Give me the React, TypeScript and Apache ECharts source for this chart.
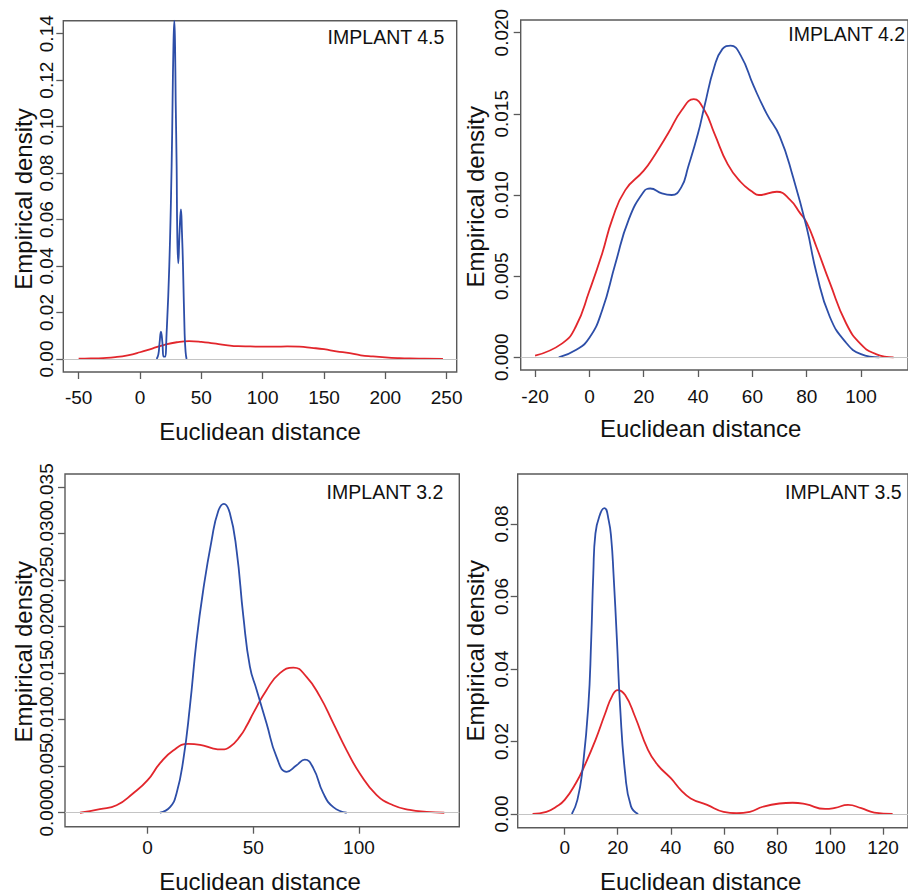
import React, { useEffect, useRef } from "react";
import * as echarts from "echarts";

const FONT = "'Liberation Sans', Arial, Helvetica, sans-serif";
const RED = "#e2262c";
const BLUE = "#2d4ea8";
const BOX = "#5a5a5a";

const panelTitles = ["IMPLANT 4.5", "IMPLANT 4.2", "IMPLANT 3.2", "IMPLANT 3.5"];
const xTitle = "Euclidean distance";
const yTitle = "Empirical density";

// tick values
const xTicks45 = [-50, 0, 50, 100, 150, 200, 250];
const yTicks45 = [0, 0.02, 0.04, 0.06, 0.08, 0.1, 0.12, 0.14];
const xTicks42 = [-20, 0, 20, 40, 60, 80, 100];
const yTicks42 = [0, 0.005, 0.01, 0.015, 0.02];
const xTicks32 = [0, 50, 100];
const yTicks32 = [0, 0.005, 0.01, 0.015, 0.02, 0.025, 0.03, 0.035];
const xTicks35 = [0, 20, 40, 60, 80, 100, 120];
const yTicks35 = [0, 0.02, 0.04, 0.06, 0.08];

// IMPLANT 4.5
const red45 = [
  [-50, 0.0001], [-40, 0.0002], [-30, 0.0004], [-20, 0.0008], [-10, 0.0016], [0, 0.0029],
  [10, 0.0045], [20, 0.0061], [30, 0.0072], [40, 0.0077], [50, 0.0074], [60, 0.0067],
  [70, 0.006], [80, 0.0055], [90, 0.0054], [100, 0.0053], [110, 0.0053], [120, 0.0054],
  [130, 0.0053], [140, 0.0048], [150, 0.0042], [160, 0.0033], [171, 0.0025], [180, 0.0016],
  [190, 0.0011], [200, 0.0007], [210, 0.0004], [220, 0.0002], [232, 0.0001], [247, 0],
];
const blue45 = [
  [13.6, 0], [15, 0.002], [16, 0.007], [17.1, 0.0118], [18.3, 0.007], [19.3, 0.001],
  [20.3, 0.001], [21.7, 0.011], [23.9, 0.04], [25.8, 0.083], [26.6, 0.1115], [27.3, 0.135],
  [28.0, 0.1456], [28.6, 0.135], [29.1, 0.1115], [29.9, 0.083], [30.4, 0.054], [31.2, 0.0412],
  [32.3, 0.055], [33.4, 0.0644], [34.2, 0.055], [35.1, 0.0397], [36.4, 0.011], [37.2, 0.003],
  [38, 0],
];

// IMPLANT 4.2
const red42 = [
  [-20, 0.0001], [-10, 0.00086], [-5, 0.0019], [0, 0.0041], [4.7, 0.0064], [8.4, 0.0085],
  [13.2, 0.0103], [20, 0.0115], [24.2, 0.0125], [29, 0.0138], [33.9, 0.0152], [38.4, 0.0159],
  [42.4, 0.0152], [46, 0.0138], [50.9, 0.0119], [55.7, 0.0108], [60, 0.0102], [62.4, 0.01],
  [69, 0.0102], [73.9, 0.0097], [77.5, 0.0089], [80, 0.0083], [83.6, 0.0068], [88.5, 0.0046],
  [94.5, 0.0021], [100, 0.0008], [105.5, 0.0002], [112, 0],
];
const blue42 = [
  [-11.3, 0], [-5, 0.00045], [0, 0.0012], [4.7, 0.0029], [9.6, 0.0058], [14.5, 0.0085],
  [20, 0.0102], [22.4, 0.0104], [26.7, 0.0101], [30.3, 0.01], [33.9, 0.0105], [36.3, 0.0117],
  [40, 0.0138], [42.4, 0.0155], [46, 0.0179], [49, 0.019], [52, 0.0192], [55.7, 0.0186],
  [60.5, 0.0167], [65.3, 0.015], [70.1, 0.0136], [75, 0.0111], [80, 0.008], [83.6, 0.0052],
  [88.5, 0.0025], [94.5, 0.0009], [100, 0.0002], [106.7, 0],
];

// IMPLANT 3.2
const red32 = [
  [-32, 0], [-22.6, 0.0004], [-14.7, 0.0008], [-6.8, 0.0021], [0, 0.0035], [5.8, 0.0053],
  [12.1, 0.0067], [19.2, 0.0074], [24.8, 0.0073], [31.1, 0.0069], [35, 0.0068], [39, 0.0071],
  [43.7, 0.0082], [47, 0.0094], [50, 0.0107], [56.3, 0.0132], [62.6, 0.015], [69, 0.0156],
  [75.2, 0.0146], [81.5, 0.0125], [87.9, 0.0096], [94.2, 0.0067], [100.5, 0.0042],
  [108.4, 0.0019], [116.2, 0.0008], [124.1, 0.0003], [132, 0.0001], [140.4, 0],
];
const blue32 = [
  [5.8, 0], [10.6, 0.0006], [13.7, 0.0021], [16.9, 0.0057], [20, 0.0114], [23.2, 0.0186],
  [26.3, 0.0239], [30.3, 0.0293], [33.4, 0.0324], [36.1, 0.0332], [38.9, 0.0322], [42.1, 0.0282],
  [45.3, 0.0211], [48.4, 0.0157], [51.6, 0.0132], [56.3, 0.0096], [61, 0.006], [65.8, 0.0044],
  [70.5, 0.0051], [74.4, 0.0057], [78.4, 0.0048], [83.1, 0.0021], [87.9, 0.0006], [94.2, 0],
];

// IMPLANT 3.5
const red35 = [
  [-12.1, 0], [-6.9, 0.0006], [-3.2, 0.002], [0, 0.0039], [4.2, 0.0085], [7.9, 0.014],
  [11.6, 0.0204], [15.3, 0.0278], [17.8, 0.0324], [20, 0.0342], [22.8, 0.0328], [26.5, 0.0269],
  [31.4, 0.0177], [35.1, 0.0135], [40.1, 0.0098], [43.8, 0.0066], [47.5, 0.0043], [53.7, 0.0025],
  [59.9, 0.0006], [64.8, 0.0002], [69.8, 0.0006], [74.7, 0.002], [80.9, 0.0029], [85.9, 0.0031],
  [90.8, 0.0027], [98.2, 0.0014], [101.9, 0.0017], [106.8, 0.0025], [111.8, 0.0016],
  [116.7, 0.0004], [123.6, 0],
];
const blue35 = [
  [2.7, 0], [4.8, 0.0039], [6.7, 0.0121], [8.9, 0.0296], [10.0, 0.048], [10.8, 0.0664],
  [11.6, 0.0774], [13.5, 0.083], [15, 0.0844], [16.6, 0.081], [17.6, 0.0756], [18.4, 0.0664],
  [19.7, 0.048], [20.9, 0.0296], [22.8, 0.0112], [25, 0.0021], [27.7, 0],
];

const panelData = [
  { red: red45, blue: blue45, xTicks: xTicks45, yTicks: yTicks45, yDigits: 2 },
  { red: red42, blue: blue42, xTicks: xTicks42, yTicks: yTicks42, yDigits: 3 },
  { red: red32, blue: blue32, xTicks: xTicks32, yTicks: yTicks32, yDigits: 3 },
  { red: red35, blue: blue35, xTicks: xTicks35, yTicks: yTicks35, yDigits: 2 },
];

// layout (pixels) and axis ranges
const layouts = [
  { left: 63.3, top: 20.7, right: 456.7, bottom: 372, xMin: -62.5, xMax: 258.2, yMin: -0.0056, yMax: 0.1456,
    xLabMargin: 15.5, yLabMargin: 7, yT: [23.4, 199], xT: [260, 431], imp: [444.3, 36.5] },
  { left: 520.7, top: 20, right: 912.6, bottom: 370, xMin: -25.3, xMax: 117.3, yMin: -0.00078, yMax: 0.02078,
    xLabMargin: 16.8, yLabMargin: 9.5, yT: [475, 196.7], xT: [700.7, 428.4], imp: [905, 34.2] },
  { left: 65, top: 474, right: 459.3, bottom: 826.7, xMin: -39.1, xMax: 147.5, yMin: -0.0015, yMax: 0.0364,
    xLabMargin: 10.8, yLabMargin: 8.8, yT: [23.4, 651.7], xT: [260, 881], imp: [443.3, 491.5] },
  { left: 517.7, top: 474, right: 914, bottom: 827.7, xMin: -17.7, xMax: 129.4, yMin: -0.00378, yMax: 0.0938,
    xLabMargin: 9.8, yLabMargin: 6.5, yT: [475, 650.8], xT: [700.7, 881], imp: [901.7, 491.5] },
];

export default function App() {
  const ref = useRef<HTMLDivElement>(null);
  useEffect(() => {
    if (!ref.current) return;
    const chart = echarts.init(ref.current, undefined, { renderer: "svg" });
    const grid: any[] = [];
    const xAxis: any[] = [];
    const yAxis: any[] = [];
    const series: any[] = [];
    const graphic: any[] = [];
    layouts.forEach((L, i) => {
      const P = panelData[i];
      grid.push({
        left: L.left, top: L.top, width: L.right - L.left, height: L.bottom - L.top,
        show: true, borderColor: BOX, borderWidth: 1.4, backgroundColor: "transparent",
      });
      xAxis.push({
        type: "value", gridIndex: i, min: L.xMin, max: L.xMax, position: "bottom",
        axisLine: { show: false, onZero: false },
        axisTick: { show: true, length: 7, customValues: P.xTicks, lineStyle: { color: BOX, width: 1.3 } },
        axisLabel: {
          customValues: P.xTicks, margin: L.xLabMargin, fontSize: 19, fontFamily: FONT, color: "#111",
          showMinLabel: true, showMaxLabel: true,
        },
        splitLine: { show: false },
      });
      // labels split over two coincident y axes so that touching labels are never auto-hidden
      const evenLabels = P.yTicks.filter((_, k) => k % 2 === 0);
      const oddLabels = P.yTicks.filter((_, k) => k % 2 === 1);
      [evenLabels, oddLabels].forEach((labs, k) => {
        yAxis.push({
          type: "value", gridIndex: i, min: L.yMin, max: L.yMax, position: "left",
          axisLine: { show: false, onZero: false },
          axisTick: { show: k === 0, length: 7, customValues: P.yTicks, lineStyle: { color: BOX, width: 1.3 } },
          axisLabel: {
            customValues: labs, rotate: 90, margin: L.yLabMargin, fontSize: 19, fontFamily: FONT, color: "#111",
            showMinLabel: true, showMaxLabel: true,
            formatter: (v: number) => v.toFixed(P.yDigits),
          },
          splitLine: { show: false },
        });
      });
      series.push({
        type: "line", xAxisIndex: i, yAxisIndex: 2 * i, data: P.red, showSymbol: false, smooth: 0.5,
        lineStyle: { color: RED, width: 1.8 }, z: 3, silent: true,
        markLine: {
          silent: true, symbol: "none", label: { show: false },
          lineStyle: { color: "#c4c4c4", width: 1.2, type: "solid" },
          data: [{ yAxis: 0 }],
        },
      });
      series.push({
        type: "line", xAxisIndex: i, yAxisIndex: 2 * i, data: P.blue, showSymbol: false, smooth: 0.5,
        lineStyle: { color: BLUE, width: 1.8 }, z: 4, silent: true,
      });
      graphic.push({
        type: "text", x: L.yT[0], y: L.yT[1], rotation: Math.PI / 2,
        style: { text: yTitle, font: `24px ${FONT}`, fill: "#111", textAlign: "center", textVerticalAlign: "middle" },
      });
      graphic.push({
        type: "text", x: L.xT[0], y: L.xT[1],
        style: { text: xTitle, font: `24px ${FONT}`, fill: "#111", textAlign: "center", textVerticalAlign: "middle" },
      });
      graphic.push({
        type: "text", x: L.imp[0], y: L.imp[1],
        style: { text: panelTitles[i], font: `19.5px ${FONT}`, fill: "#111", textAlign: "right", textVerticalAlign: "middle" },
      });
    });
    chart.setOption({
      animation: false,
      backgroundColor: "#ffffff",
      grid, xAxis, yAxis, series, graphic,
    });
    return () => chart.dispose();
  }, []);
  return <div ref={ref} style={{ position: "absolute", left: 0, top: 0, width: 908, height: 894 }} />;
}
